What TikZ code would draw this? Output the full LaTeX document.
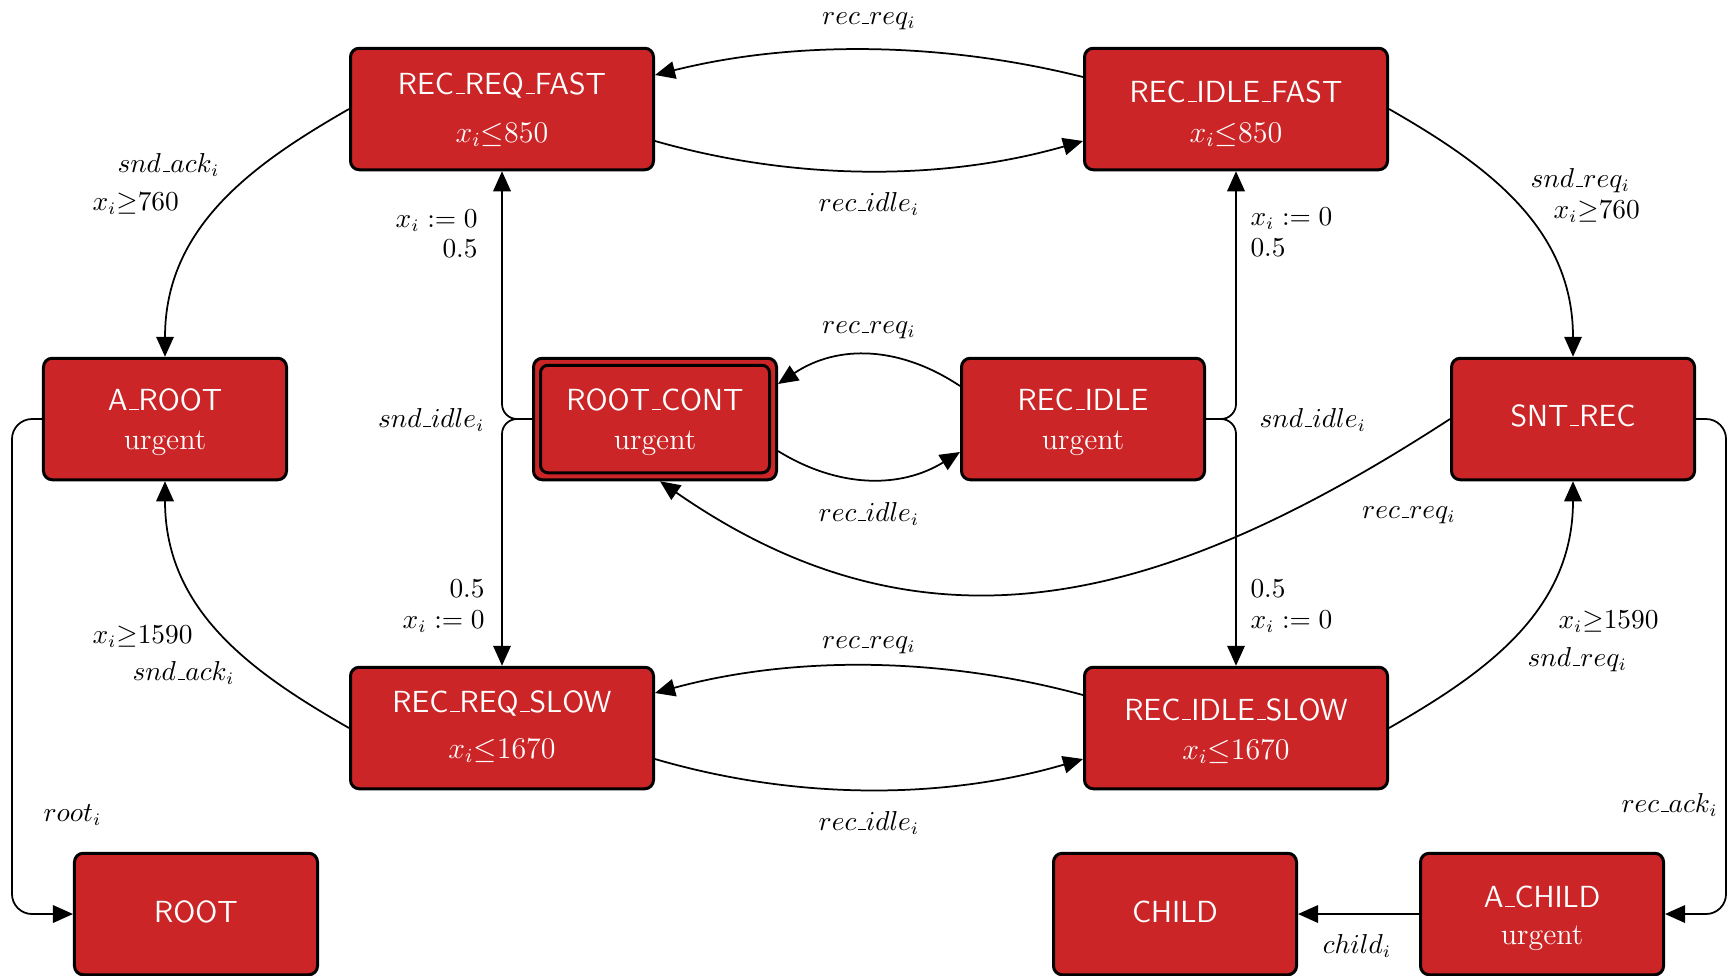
\documentclass[tikz,border=0pt]{standalone}
\usetikzlibrary{arrows.meta}
\definecolor{boxred}{RGB}{204,37,39}
\newcommand{\usc}{\leavevmode\kern.06em\vbox{\hrule width.3em height .45pt}}
\tikzset{
  box/.style={draw=black, line width=1.2pt, fill=boxred, rounded corners=3.5pt,
    minimum width=121.2pt, minimum height=48.6pt, inner sep=0pt},
  sbox/.style={box, minimum width=97.2pt},
  ttl/.style={anchor=base, text=white, font=\sffamily\fontsize{12.2}{14}\selectfont, inner sep=0pt},
  sub/.style={anchor=base, text=white, font=\fontsize{12}{14}\selectfont, inner sep=0pt},
  lbl/.style={anchor=base, font=\fontsize{10.5}{12}\selectfont, inner sep=0pt},
  lblw/.style={lbl, anchor=base west},
  lble/.style={lbl, anchor=base east},
  edge/.style={-{Triangle[length=8pt,width=7pt]}, line width=0.7pt},
}
\begin{document}
\begin{tikzpicture}[x=0.4pt,y=-0.4pt]
\useasboundingbox (0,0) rectangle (1730,975);

% states
\node[box]  (rrf) at (502,109) {};
\node[box]  (rif) at (1236,109) {};
\node[sbox] (aroot) at (165,419) {};
\node[sbox] (rc) at (655,419) {};
\node[sbox] (ri) at (1083,419) {};
\node[sbox] (snt) at (1573,419) {};
\node[box]  (rrs) at (502,728) {};
\node[box]  (ris) at (1236,728) {};
\node[sbox] (root) at (196,914) {};
\node[sbox] (child) at (1175,914) {};
\node[sbox] (achild) at (1542,914) {};
\draw[line width=1.2pt, rounded corners=3pt]
  ([shift={(3.4pt,-3.4pt)}]rc.north west) rectangle ([shift={(-3.4pt,3.4pt)}]rc.south east);

% state texts
\node[ttl] (rrf-t) at (502,94) {REC\usc REQ\usc FAST};
\node[sub] (rrf-s) at (502,142) {$x_i{\le}850$};
\node[ttl] (rif-t) at (1236,102) {REC\usc IDLE\usc FAST};
\node[sub] (rif-s) at (1236,142) {$x_i{\le}850$};
\node[ttl] (aroot-t) at (165,410) {A\usc ROOT};
\node[sub] (aroot-s) at (165,449) {urgent};
\node[ttl] (rc-t) at (655,410) {ROOT\usc CONT};
\node[sub] (rc-s) at (655,449) {urgent};
\node[ttl] (ri-t) at (1083,410) {REC\usc IDLE};
\node[sub] (ri-s) at (1083,449) {urgent};
\node[ttl] (snt-t) at (1573,426) {SNT\usc REC};
\node[ttl] (rrs-t) at (502,712) {REC\usc REQ\usc SLOW};
\node[sub] (rrs-s) at (502,758) {$x_i{\le}1670$};
\node[ttl] (ris-t) at (1236,720) {REC\usc IDLE\usc SLOW};
\node[sub] (ris-s) at (1236,759) {$x_i{\le}1670$};
\node[ttl] (root-t) at (196,922) {ROOT};
\node[ttl] (child-t) at (1175,922) {CHILD};
\node[ttl] (achild-t) at (1542,907) {A\usc CHILD};
\node[sub] (achild-s) at (1542,944) {urgent};

% transitions
\draw[edge] ([yshift=12.8pt]rif.west) .. controls +(-140,-35) and +(140,-35) .. ([yshift=13.6pt]rrf.east);
\draw[edge] ([yshift=-12.8pt]rrf.east) .. controls +(140,40) and +(-140,40) .. ([yshift=-12.8pt]rif.west);
\draw[edge] (rrf.west) .. controls +(-96,55) and +(0,-130) .. (aroot.north);
\draw[edge] (rif.east) .. controls +(96,55) and +(0,-130) .. (snt.north);
\draw[edge, rounded corners=6pt] (rc.west) -| (rrf.south);
\draw[edge, rounded corners=6pt] (rc.west) -| (rrs.north);
\draw[edge, rounded corners=6pt] (ri.east) -| (rif.south);
\draw[edge, rounded corners=6pt] (ri.east) -| (ris.north);
\draw[edge] ([yshift=13.2pt]ri.west) .. controls +(-60,-40) and +(60,-40) .. ([yshift=14pt]rc.east);
\draw[edge] ([yshift=-12.8pt]rc.east) .. controls +(60,37) and +(-60,37) .. ([yshift=-13.2pt]ri.west);
\draw[edge] (snt.west) .. controls +(-279,181) and +(272,189) .. ([xshift=2pt]rc.south);
\draw[edge] ([yshift=13.2pt]ris.west) .. controls +(-140,-38) and +(140,-38) .. ([yshift=14pt]rrs.east);
\draw[edge] ([yshift=-12.4pt]rrs.east) .. controls +(140,41) and +(-140,41) .. ([yshift=-12.4pt]ris.west);
\draw[edge] (rrs.west) .. controls +(-96,-55) and +(0,130) .. (aroot.south);
\draw[edge] (ris.east) .. controls +(96,-55) and +(0,130) .. (snt.south);
\draw[edge, rounded corners=8pt] (aroot.west) -- ++(-30,0) |- (root.west);
\draw[edge, rounded corners=8pt] (snt.east) -- ++(30,0) |- (achild.east);
\draw[edge] (achild.west) -- (child.east);

% labels
\node[lbl] (l1) at (869,24) {$rec\usc req_i$};
\node[lbl] (l2) at (869,211) {$rec\usc idle_i$};
\node[lblw] (l3) at (117,172) {$snd\usc ack_i$};
\node[lblw] (l4) at (92,210) {$x_i{\ge}760$};
\node[lblw] (l5) at (1530,187) {$snd\usc req_i$};
\node[lblw] (l6) at (1553,218) {$x_i{\ge}760$};
\node[lble] (l7) at (478,227) {$x_i := 0$};
\node[lble] (l8) at (478,257) {$0.5$};
\node[lble] (l9) at (485,427) {$snd\usc idle_i$};
\node[lble] (l10) at (485,597) {$0.5$};
\node[lble] (l11) at (485,628) {$x_i := 0$};
\node[lblw] (l12) at (1250,225) {$x_i := 0$};
\node[lblw] (l13) at (1250,256) {$0.5$};
\node[lblw] (l14) at (1259,427) {$snd\usc idle_i$};
\node[lblw] (l15) at (1250,597) {$0.5$};
\node[lblw] (l16) at (1250,628) {$x_i := 0$};
\node[lbl] (l17) at (869,333) {$rec\usc req_i$};
\node[lbl] (l18) at (869,521) {$rec\usc idle_i$};
\node[lbl] (l19) at (1409,518) {$rec\usc req_i$};
\node[lbl] (l20) at (869,648) {$rec\usc req_i$};
\node[lbl] (l21) at (869,830) {$rec\usc idle_i$};
\node[lblw] (l22) at (92,643) {$x_i{\ge}1590$};
\node[lblw] (l23) at (132,680) {$snd\usc ack_i$};
\node[lblw] (l24) at (1558,628) {$x_i{\ge}1590$};
\node[lblw] (l25) at (1527,666) {$snd\usc req_i$};
\node[lblw] (l26) at (43,821) {$root_i$};
\node[lblw] (l27) at (1621,812) {$rec\usc ack_i$};
\node[lbl] (l28) at (1357,953) {$child_i$};
\end{tikzpicture}
\end{document}
